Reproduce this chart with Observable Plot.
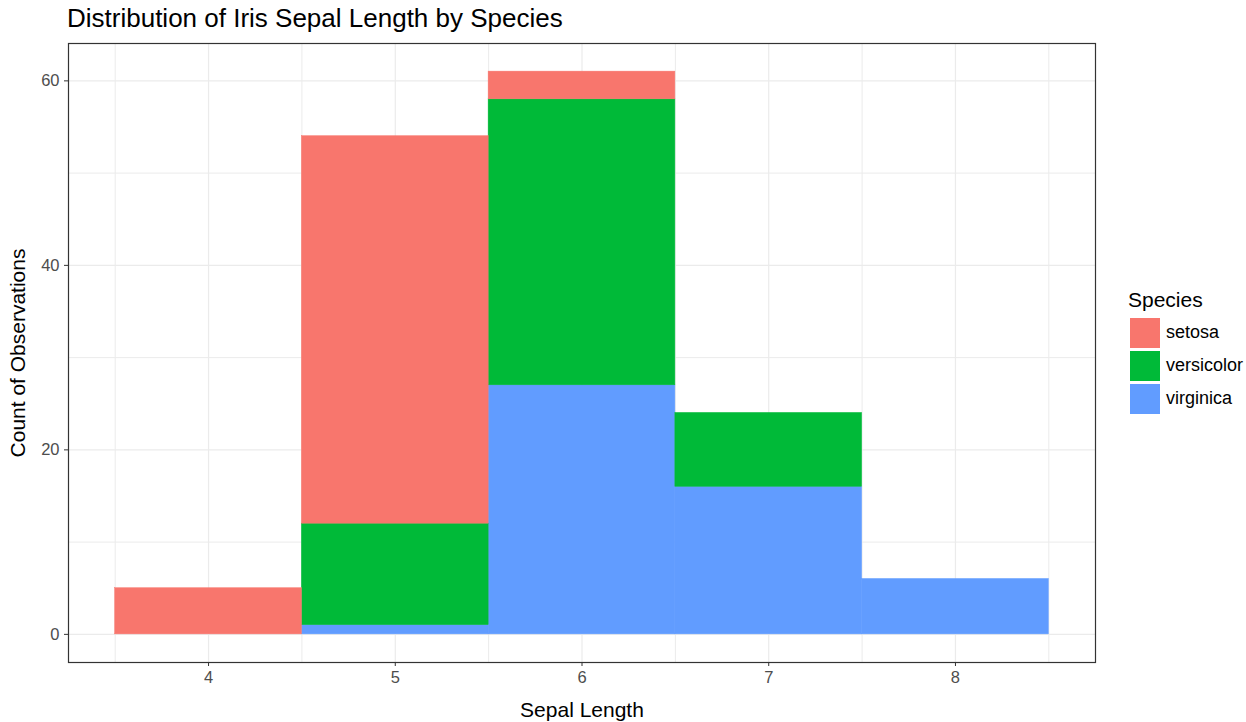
<!DOCTYPE html>
<html>
<head>
<meta charset="utf-8">
<script src="https://cdn.jsdelivr.net/npm/d3@7"></script>
<script src="https://cdn.jsdelivr.net/npm/@observablehq/plot@0.6"></script>
<style>
  body { margin: 0; background: #fff; font-family: "Liberation Sans", Arial, sans-serif; }
  #wrap { position: relative; width: 1246px; height: 722px; }
  #title { position: absolute; left: 67px; top: 2px; font-size: 26px; line-height: 32px; color: #000; white-space: nowrap; }
  #legend { position: absolute; left: 1128px; top: 288px; }
  #legend .lt { font-size: 21px; line-height: 24px; color: #000; margin-bottom: 4px; }
  #legend .row { display: flex; align-items: center; height: 33px; }
  #legend .sw { width: 30px; height: 30px; margin-left: 2px; margin-right: 6px; }
  #legend .lab { font-size: 18px; color: #000; }
  svg [aria-label="x-axis label"] text, svg [aria-label="y-axis label"] text { font-size: 21px; fill: #000; }
  svg [aria-label="x-axis tick label"] text, svg [aria-label="y-axis tick label"] text { fill: #4d4d4d; }
</style>
</head>
<body>
<div id="wrap">
  <div id="title">Distribution of Iris Sepal Length by Species</div>
  <div id="legend"></div>
</div>
<script>
const species = ["setosa", "versicolor", "virginica"];
const colors = ["#F8766D", "#00BA38", "#619CFF"];
const binStart = [3.5, 4.5, 5.5, 6.5, 7.5];
const binEnd = [4.5, 5.5, 6.5, 7.5, 8.5];
const setosaCounts = [5, 42, 3, 0, 0];
const versicolorCounts = [0, 11, 31, 8, 0];
const virginicaCounts = [0, 1, 27, 16, 6];
const xTicks = [4, 5, 6, 7, 8];
const yTicks = [0, 20, 40, 60];
const xMinor = [3.5, 4.5, 5.5, 6.5, 7.5, 8.5];
const yMinor = [10, 30, 50];

const countsBySpecies = { setosa: setosaCounts, versicolor: versicolorCounts, virginica: virginicaCounts };
const rows = [];
for (const s of ["virginica", "versicolor", "setosa"]) {
  binStart.forEach((b, i) => rows.push({ species: s, x1: b, x2: binEnd[i], count: countsBySpecies[s][i] }));
}

const plot = Plot.plot({
  width: 1246,
  height: 722,
  marginLeft: 68,
  marginRight: 151,
  marginTop: 43,
  marginBottom: 60,
  style: { fontFamily: "'Liberation Sans', Arial, sans-serif", fontSize: "16.5px", background: "#fff" },
  x: { domain: [3.25, 8.75] },
  y: { domain: [-3.05, 64.05] },
  color: { domain: species, range: colors },
  marks: [
    Plot.ruleX(xMinor, { stroke: "#ebebeb", strokeWidth: 1 }),
    Plot.ruleY(yMinor, { stroke: "#ebebeb", strokeWidth: 1 }),
    Plot.ruleX(xTicks, { stroke: "#ebebeb", strokeWidth: 1.2 }),
    Plot.ruleY(yTicks, { stroke: "#ebebeb", strokeWidth: 1.2 }),
    Plot.rectY(rows, Plot.stackY({ x1: "x1", x2: "x2", y: "count", fill: "species", stroke: "species", strokeWidth: 0.5, order: ["virginica", "versicolor", "setosa"], inset: 0 })),
    Plot.frame({ stroke: "#333", strokeWidth: 1.2 }),
    Plot.axisX({ ticks: xTicks, tickSize: 4, tickPadding: 5, tickFormat: d => String(d), label: "Sepal Length", labelAnchor: "center", labelArrow: "none", labelOffset: 54, stroke: "#333" }),
    Plot.axisY({ ticks: yTicks, tickSize: 4, tickPadding: 5, tickFormat: d => String(d), label: "Count of Observations", labelAnchor: "center", labelOffset: 58, labelArrow: "none", stroke: "#333" })
  ]
});
plot.style.position = "absolute";
plot.style.left = "0px";
plot.style.top = "0px";
document.getElementById("wrap").prepend(plot);

const legend = document.getElementById("legend");
legend.innerHTML = '<div class="lt">Species</div>' + species.map((s, i) =>
  `<div class="row"><div class="sw" style="background:${colors[i]}"></div><div class="lab">${s}</div></div>`).join("");
</script>
</body>
</html>
